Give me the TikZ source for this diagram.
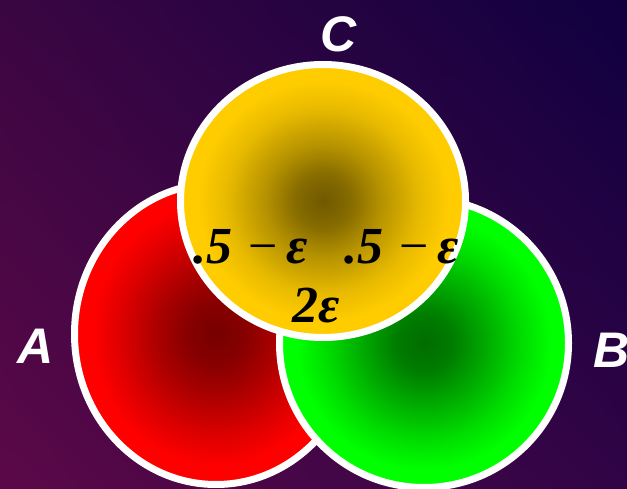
\documentclass[tikz,border=0pt]{standalone}
\usepackage{fontspec}
\setmainfont{Liberation Serif}
\newfontfamily\lblfont{Liberation Sans}
\usetikzlibrary{shapes.geometric,shadings}
\definecolor{bgUL}{RGB}{58,6,66}
\definecolor{bgUR}{RGB}{16,0,64}
\definecolor{bgLL}{RGB}{92,8,72}
\definecolor{bgLR}{RGB}{48,4,70}
\pgfdeclareradialshading{redsh}{\pgfpoint{0bp}{0bp}}{color(0bp)=(rgb,255:red,118;green,0;blue,0); color(5bp)=(rgb,255:red,135;green,0;blue,0); color(10bp)=(rgb,255:red,168;green,0;blue,0); color(17bp)=(rgb,255:red,222;green,0;blue,0); color(22bp)=(rgb,255:red,255;green,0;blue,0); color(50bp)=(rgb,255:red,255;green,0;blue,0)}
\pgfdeclareradialshading{greensh}{\pgfpoint{0bp}{0bp}}{color(0bp)=(rgb,255:red,0;green,108;blue,0); color(5bp)=(rgb,255:red,0;green,125;blue,0); color(10bp)=(rgb,255:red,0;green,165;blue,0); color(17bp)=(rgb,255:red,0;green,222;blue,0); color(22bp)=(rgb,255:red,0;green,255;blue,0); color(50bp)=(rgb,255:red,0;green,255;blue,0)}
\pgfdeclareradialshading{yellowsh}{\pgfpoint{0bp}{0bp}}{color(0bp)=(rgb,255:red,112;green,88;blue,0); color(5bp)=(rgb,255:red,135;green,108;blue,0); color(10bp)=(rgb,255:red,180;green,145;blue,0); color(17bp)=(rgb,255:red,232;green,186;blue,0); color(22bp)=(rgb,255:red,255;green,204;blue,0); color(50bp)=(rgb,255:red,255;green,204;blue,0)}
\tikzset{
  venn/.style={ellipse, draw=white, line width=7bp, inner sep=0pt, shade},
  lbl/.style={text=white, inner sep=0pt, font=\lblfont\bfseries\itshape\fontsize{50bp}{50bp}\selectfont},
  mtxt/.style={text=black, inner sep=0pt, anchor=base, font=\fontsize{52bp}{52bp}\selectfont}
}
\newcommand{\bi}[1]{{\bfseries\itshape #1}}
\begin{document}
\begin{tikzpicture}[x=1bp,y=-1bp]
\useasboundingbox (0,0) rectangle (627,489);
\shade[upper left=bgUL, upper right=bgUR, lower left=bgLL, lower right=bgLR] (0,0) rectangle (627,489);
\node[venn, shading=redsh, minimum width=283bp, minimum height=301bp] (A) at (216,334) {};
\node[venn, shading=greensh, minimum width=289bp, minimum height=289bp] (B) at (424,343) {};
\node[venn, shading=yellowsh, minimum width=285bp, minimum height=273bp] (C) at (323,201) {};
\node[lbl] (lC) at (339,34) {C};
\node[lbl] (lA) at (36,346) {A};
\node[lbl] (lB) at (612,350) {B};
\node[mtxt] (t1) at (251,263) {\bi{.5}\hspace{0.3em}−\hspace{0.18em}\bi{ε}};
\node[mtxt] (t2) at (402,263) {\bi{.5}\hspace{0.3em}−\hspace{0.18em}\bi{ε}};
\node[mtxt] (t3) at (316,322) {\bi{2ε}};
\end{tikzpicture}
\end{document}
